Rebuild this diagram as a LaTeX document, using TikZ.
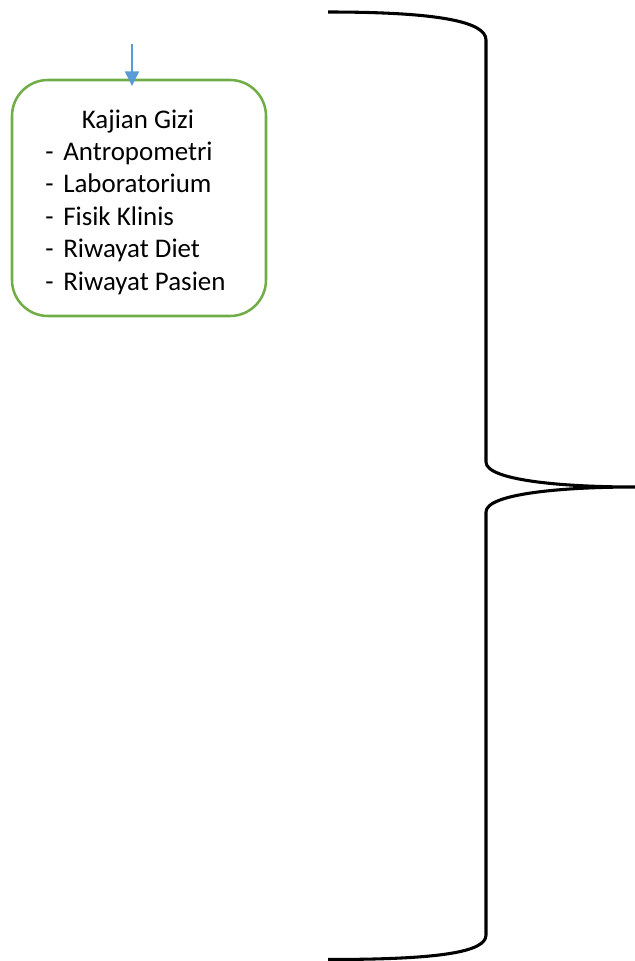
\documentclass[tikz,border=0pt]{standalone}
\usepackage{fontspec}
\setmainfont{Carlito}
\usetikzlibrary{arrows.meta}
\definecolor{boxgreen}{HTML}{70AD47}
\definecolor{arrowblue}{HTML}{5B9BD5}
\tikzset{
  gizibox/.style={draw=boxgreen, line width=1.9pt, rounded corners=27pt, minimum width=190.5pt, minimum height=177pt, inner sep=0pt},
  itemtext/.style={anchor=base west, inner sep=0pt, font=\fontsize{20.2}{24}\selectfont},
  titletext/.style={anchor=base, inner sep=0pt, font=\fontsize{20.2}{24}\selectfont},
  bracestroke/.style={line width=2.3pt, line join=round},
  inarrow/.style={draw=arrowblue, line width=1.5pt, -{Triangle[length=11pt,width=10.5pt]}}
}
\begin{document}
\begin{tikzpicture}[x=0.75pt, y=-0.75pt]
\useasboundingbox (0,0) rectangle (635,961);
% box
\node[gizibox] (box) at (139,198) {};
\coordinate (arrtop) at (132,44);
\coordinate (arrtip) at (132,86);
\draw[inarrow] (arrtop) -- (arrtip);
% texts
\node[titletext] (title) at (138,128) {Kajian Gizi};
\node[itemtext] (d1) at (45,160) {-};
\node[itemtext] (t1) at (63,160) {Antropometri};
\node[itemtext] (d2) at (45,192.5) {-};
\node[itemtext] (t2) at (63,192.5) {Laboratorium};
\node[itemtext] (d3) at (45,225) {-};
\node[itemtext] (t3) at (63,225) {Fisik Klinis};
\node[itemtext] (d4) at (45,257.5) {-};
\node[itemtext] (t4) at (63,257.5) {Riwayat Diet};
\node[itemtext] (d5) at (45,290) {-};
\node[itemtext] (t5) at (63,290) {Riwayat Pasien};
% brace
\coordinate (btop) at (328,12);
\coordinate (btip) at (635,487);
\coordinate (bbot) at (328,959.5);
\draw[bracestroke] (btop) .. controls (440,12) and (486,22) .. (486,40)
  -- (486,462) .. controls (486,480) and (560,487) .. (btip)
  .. controls (560,487) and (486,494) .. (486,512)
  -- (486,935) .. controls (486,952) and (440,959.5) .. (bbot);
\end{tikzpicture}
\end{document}
